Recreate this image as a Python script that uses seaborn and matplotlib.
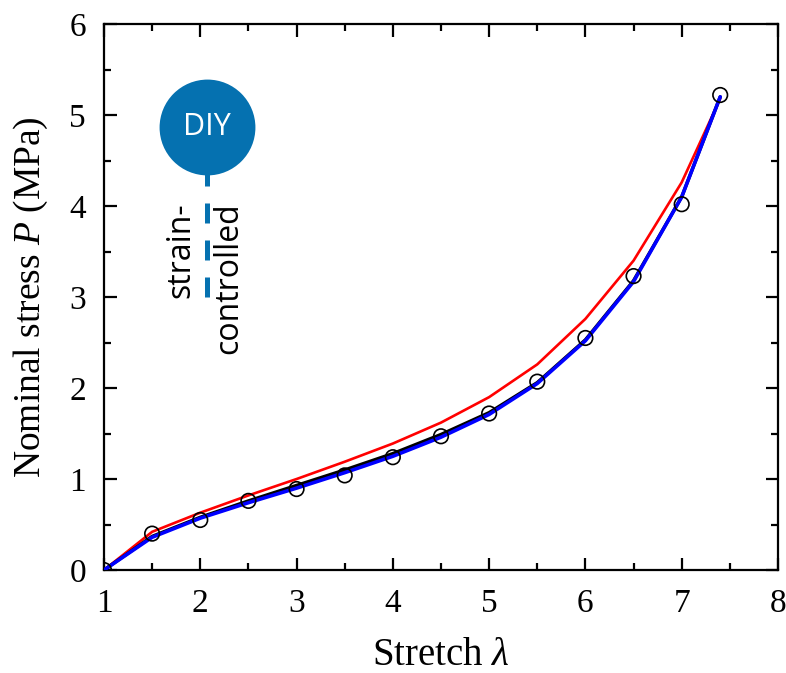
import numpy as np
import pandas as pd
import matplotlib
matplotlib.use("Agg")
import matplotlib.pyplot as plt
import seaborn as sns
from matplotlib.ticker import MultipleLocator

# ---- data ----
stretch = [1.0, 1.5, 2.0, 2.5, 3.0, 3.5, 4.0, 4.5, 5.0, 5.5, 6.0, 6.5, 7.0, 7.4]
exp_stress = [0.0, 0.40, 0.55, 0.76, 0.89, 1.04, 1.24, 1.47, 1.72, 2.07, 2.55, 3.23, 4.02, 5.22]
red_stress = [0.0, 0.42, 0.63, 0.82, 1.00, 1.19, 1.39, 1.62, 1.90, 2.26, 2.76, 3.40, 4.26, 5.18]
black_stress = [0.0, 0.37, 0.58, 0.76, 0.93, 1.10, 1.28, 1.49, 1.73, 2.06, 2.53, 3.18, 4.10, 5.20]
blue_stress = [0.0, 0.36, 0.57, 0.74, 0.90, 1.07, 1.25, 1.46, 1.71, 2.05, 2.52, 3.17, 4.10, 5.20]

df = pd.DataFrame({"stretch": stretch, "exp": exp_stress, "red": red_stress,
                   "black": black_stress, "blue": blue_stress})

sns.set_style("ticks")
plt.rcParams["font.family"] = ["Liberation Serif", "DejaVu Serif"]
plt.rcParams["mathtext.fontset"] = "custom"
plt.rcParams["mathtext.it"] = "Liberation Serif:italic"
plt.rcParams["mathtext.rm"] = "Liberation Serif"
for k in ["text.color", "axes.labelcolor", "xtick.color", "ytick.color", "axes.edgecolor"]:
    plt.rcParams[k] = "black"

fig = plt.figure(figsize=(7.86, 6.73), dpi=100)
ax = fig.add_axes([0.1323, 0.153, 0.8575, 0.8113])

sns.lineplot(data=df, x="stretch", y="red", ax=ax, color="#ff0000", lw=1.9, zorder=3)
sns.lineplot(data=df, x="stretch", y="black", ax=ax, color="black", lw=2.4, zorder=4)
sns.lineplot(data=df, x="stretch", y="blue", ax=ax, color="#0000ff", lw=2.6, zorder=5)
sns.scatterplot(data=df, x="stretch", y="exp", ax=ax, s=110, marker="o",
                facecolor="none", edgecolor="black", linewidth=1.2, zorder=6)

ax.set_xlim(1, 8)
ax.set_ylim(0, 6)
ax.xaxis.set_major_locator(MultipleLocator(1))
ax.xaxis.set_minor_locator(MultipleLocator(0.5))
ax.yaxis.set_major_locator(MultipleLocator(1))
ax.yaxis.set_minor_locator(MultipleLocator(0.5))
ax.tick_params(which="both", direction="in", top=True, right=True, width=1.6)
ax.tick_params(which="major", length=9, labelsize=24, pad=13)
ax.tick_params(which="minor", length=5)
for s in ax.spines.values():
    s.set_linewidth(1.6)

ax.set_xlabel(r"Stretch $\lambda$", fontsize=28, labelpad=13)
ax.set_ylabel(r"Nominal stress $P$ (MPa)", fontsize=27, labelpad=14)

# DIY badge
blue = "#0571b0"
cx, cy = (207 - 104) / 674, (673 - 127 - 103) / 546
ybot = (673 - 297 - 103) / 546
ln, = ax.plot([cx, cx], [ybot, cy], transform=ax.transAxes, color=blue, lw=3.6,
              solid_capstyle="butt", dash_capstyle="butt", zorder=7, clip_on=False)
ln.set_dashes((4, 3.4))
ax.scatter([cx], [cy], s=69 ** 2, color=blue, transform=ax.transAxes, zorder=8,
           clip_on=False, linewidths=0)
ax.text(cx, cy, "DIY", transform=ax.transAxes, color="white", fontsize=22,
        family="Open Sans", ha="center", va="center", zorder=9)
ax.text((181 - 104) / 674, (673 - 250 - 103) / 546, "strain-", transform=ax.transAxes,
        rotation=90, fontsize=23, family="Open Sans", ha="center", va="center")
ax.text((229 - 104) / 674, (673 - 278 - 103) / 546, "controlled", transform=ax.transAxes,
        rotation=90, fontsize=23, family="Open Sans", ha="center", va="center")

fig.savefig("out.png", dpi=100)
